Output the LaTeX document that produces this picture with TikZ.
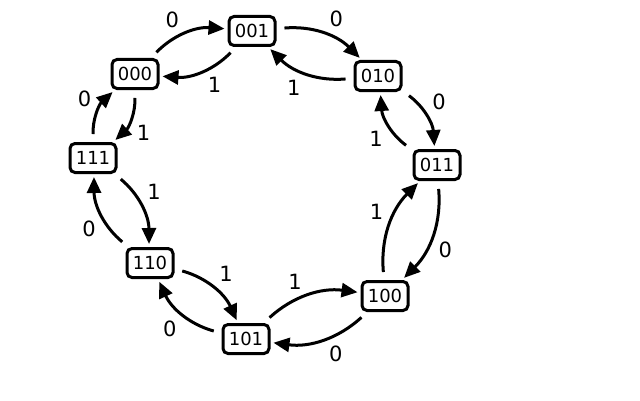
\documentclass[tikz,border=0pt]{standalone}
\usepackage{fontspec}
\setmainfont{DejaVu Sans}
\usetikzlibrary{arrows.meta}
\begin{document}
\begin{tikzpicture}[x=1pt,y=1pt,
  state/.style={draw, line width=3pt, rounded corners=5pt, minimum width=46pt, minimum height=29pt, inner sep=2pt, font=\fontsize{18}{20}\selectfont},
  tr/.style={line width=3pt, -{Triangle[length=16pt,width=14pt]}, shorten >=3pt, shorten <=8pt, bend left=#1},
  tr/.default=25,
  lab/.style={auto, font=\fontsize{21}{23}\selectfont, inner sep=5pt}]
\useasboundingbox (0,0) rectangle (640,400);
\node[state] (s001) at (252,369) {001};
\node[state] (s000) at (135,326) {000};
\node[state] (s010) at (378,324) {010};
\node[state] (s011) at (437,235) {011};
\node[state] (s111) at (93,242) {111};
\node[state] (s110) at (150,137) {110};
\node[state] (s101) at (246,61) {101};
\node[state] (s100) at (385,104) {100};
% clockwise: 0 (outer)
\draw[tr] (s000) to node[lab] {0} (s001);
\draw[tr] (s001) to node[lab] {0} (s010);
\draw[tr] (s010) to node[lab] {0} (s011);
\draw[tr] (s011) to node[lab] {0} (s100);
\draw[tr] (s100) to node[lab] {0} (s101);
\draw[tr] (s101) to node[lab] {0} (s110);
\draw[tr] (s110) to node[lab] {0} (s111);
\draw[tr] (s111) to node[lab] {0} (s000);
% counterclockwise: 1 (inner)
\draw[tr] (s001) to node[lab] {1} (s000);
\draw[tr] (s010) to node[lab] {1} (s001);
\draw[tr] (s011) to node[lab] {1} (s010);
\draw[tr] (s100) to node[lab] {1} (s011);
\draw[tr] (s101) to node[lab] {1} (s100);
\draw[tr] (s110) to node[lab] {1} (s101);
\draw[tr] (s111) to node[lab] {1} (s110);
\draw[tr] (s000) to node[lab] {1} (s111);
\end{tikzpicture}
\end{document}
